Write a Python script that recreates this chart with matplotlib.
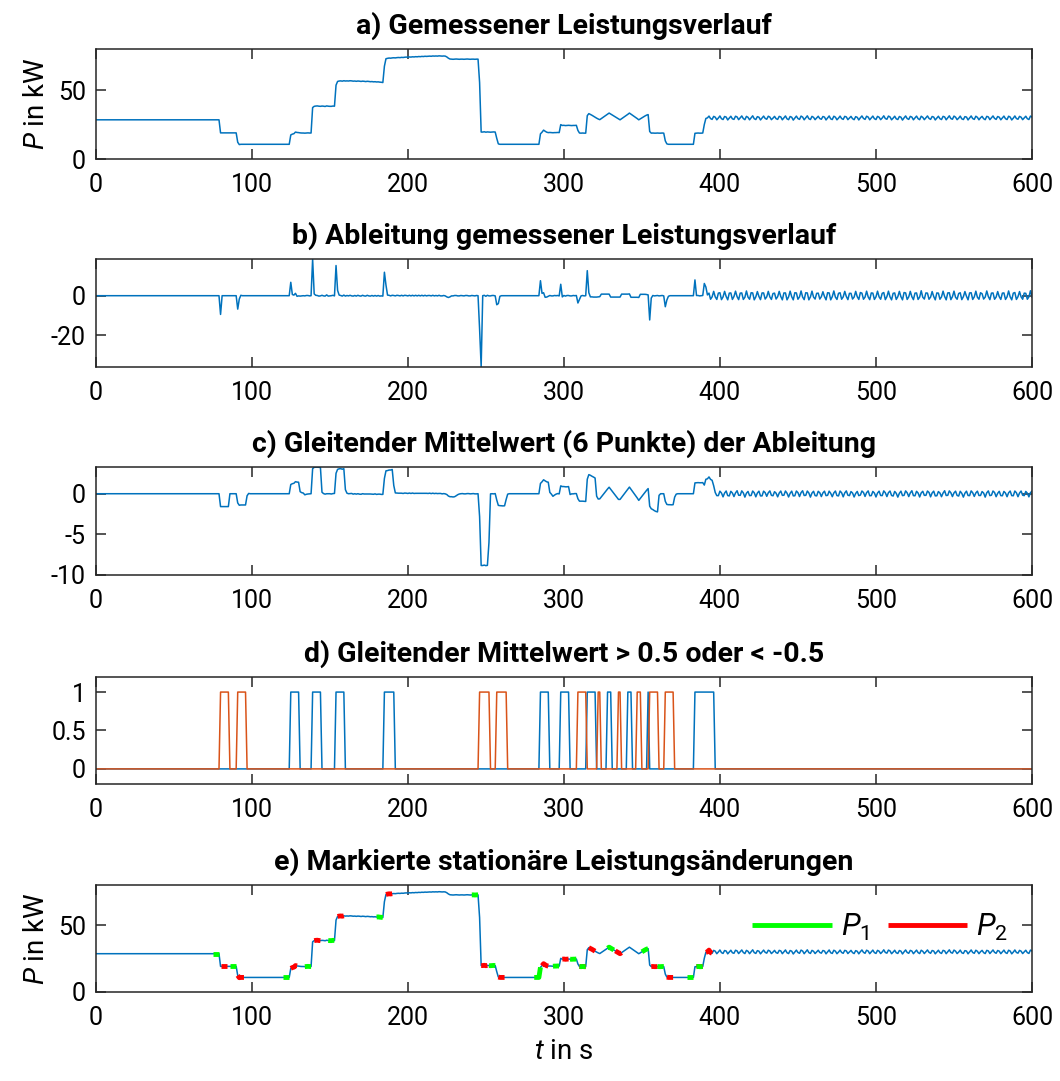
import numpy as np
import pandas as pd
import matplotlib
matplotlib.use('Agg')
import matplotlib.pyplot as plt

plt.rcParams['font.family'] = ['Roboto', 'DejaVu Sans']
plt.rcParams['mathtext.fontset'] = 'custom'
plt.rcParams['mathtext.rm'] = 'Roboto'
plt.rcParams['mathtext.it'] = 'Roboto:italic'
plt.rcParams['axes.unicode_minus'] = False

# measured power in kW, one sample per second (t = 0 ... 600 s)
p_start   = [28.5] * 80
p_drop1   = [19.0] * 11
p_drop2   = [12.2, 10.5] + [10.7] * 32
p_rise1   = [17.5, 18.1, 18.4, 19.6, 19.3, 19.2, 19.0, 18.9, 18.9, 18.8, 18.9, 19.0, 18.9, 18.9]
p_rise2   = [37.4, 38.3, 38.5, 38.6, 38.4, 38.3, 38.5, 38.4, 38.2, 38.6, 38.4, 38.3, 38.3, 38.5, 38.4]
p_rise3   = [53.7, 56.4, 56.7, 56.8, 56.6, 56.9, 56.7, 56.8, 56.7, 56.9, 56.8, 56.6, 56.7, 56.5, 56.7,
             56.6, 56.4, 56.6, 56.5, 56.3, 56.5, 56.4, 56.2, 56.3, 56.1, 56.2, 56.0, 56.1, 55.9, 55.8, 55.6]
p_rise4   = [67.5, 72.9, 73.2, 73.4, 73.3, 73.5, 73.6, 73.5, 73.7, 73.8, 73.7, 73.9, 73.8, 74.0, 74.1,
             74.0, 74.2, 74.1, 74.3, 74.2, 74.4, 74.3, 74.5, 74.4, 74.6, 74.5, 74.7, 74.6, 74.7, 74.8,
             74.7, 74.9, 74.8, 74.9, 74.8, 75.0, 74.9, 74.8, 74.9, 74.8]
p_top     = [74.2, 73.3, 72.7, 72.6, 72.5, 72.6, 72.7, 72.6, 72.5, 72.6, 72.6, 72.5, 72.6, 72.7, 72.6,
             72.5, 72.6, 72.6, 72.5, 72.6, 72.6]
p_fall1   = [55.6, 19.6, 19.6, 19.8, 19.5, 19.7, 19.6, 19.5, 19.6, 19.7, 19.6]
p_fall2   = [15.0, 11.0] + [10.7] * 26
p_rise5   = [18.3, 19.5, 21.0, 20.2, 19.5, 19.2, 19.3, 19.2, 19.1, 19.2, 19.2, 19.3, 19.2]
p_rise6   = [25.0, 24.4, 24.5, 24.3, 24.4, 24.5, 24.4, 24.3, 24.4, 24.4, 24.5]
p_fall3   = [20.8, 18.9, 18.8, 18.9, 18.8, 18.8]
p_wave    = [31.5, 33.0,
             32.4, 31.8, 31.1, 30.4, 29.7, 29.1, 28.6,
             29.4, 30.2, 31.0, 31.8, 32.6, 33.4,
             32.7, 32.0, 31.3, 30.6, 29.9, 29.2, 28.5,
             29.3, 30.1, 30.9, 31.7, 32.5, 33.4,
             32.6, 31.8, 31.0, 30.2, 29.4, 28.5,
             29.2, 29.9, 30.6, 31.3, 31.9, 32.3]
p_fall4   = [20.0, 18.8, 18.9, 18.8, 18.8, 18.9, 18.8, 18.8, 18.9, 18.8]
p_fall5   = [13.2, 11.0, 10.7] + [10.7] * 16
p_rise7   = [18.7, 18.8, 18.9, 18.8, 18.8, 18.9, 25.1, 29.5]
p_tail    = [29.9, 31.2, 29.4, 28.8, 31.0, 30.4, 28.5,
             29.8, 31.3, 29.3, 28.7, 30.9, 30.5, 28.4,
             29.7, 31.1, 29.2, 28.8, 31.1, 30.6, 28.6,
             29.9, 31.3, 29.4, 28.6, 31.0, 30.3, 28.5,
             30.0, 31.4, 29.3, 28.7, 30.8, 30.4, 28.4,
             29.8, 31.2, 29.5, 28.9, 31.1, 30.5, 28.6,
             29.7, 31.0, 29.3, 28.8, 31.0, 30.6, 28.5,
             29.9, 31.3, 29.2, 28.6, 30.9, 30.4, 28.3,
             29.8, 31.2, 29.4, 28.8, 31.2, 30.5, 28.5,
             30.0, 31.4, 29.3, 28.7, 31.0, 30.3, 28.6,
             29.8, 31.1, 29.4, 28.9, 30.9, 30.5, 28.4,
             29.9, 31.3, 29.2, 28.7, 31.1, 30.4, 28.5,
             29.7, 31.2, 29.4, 28.8, 31.0, 30.6, 28.6,
             29.8, 31.0, 29.3, 28.6, 30.8, 30.3, 28.4,
             30.0, 31.3, 29.5, 28.8, 31.1, 30.5, 28.5,
             29.9, 31.2, 29.3, 28.7, 31.0, 30.4, 28.6,
             29.8, 31.4, 29.4, 28.9, 31.2, 30.6, 28.5,
             29.7, 31.1, 29.2, 28.7, 30.9, 30.4, 28.3,
             29.9, 31.3, 29.4, 28.8, 31.0, 30.5, 28.5,
             29.8, 31.2, 29.3, 28.6, 31.1, 30.3, 28.6,
             30.0, 31.3, 29.5, 28.8, 30.9, 30.5, 28.4,
             29.8, 31.1, 29.3, 28.7, 31.0, 30.6, 28.5,
             29.9, 31.4, 29.4, 28.9, 31.2, 30.4, 28.6,
             29.7, 31.2, 29.2, 28.7, 30.8, 30.5, 28.4,
             29.8, 31.3, 29.4, 28.8, 31.1, 30.3, 28.5,
             30.0, 31.0, 29.3, 28.6, 31.0, 30.6, 28.6,
             29.9, 31.3, 29.5, 28.8, 30.9, 30.4, 28.5,
             29.8, 31.2, 29.3, 28.7, 31.1, 30.5, 28.4,
             29.7, 31.3, 29.4, 28.9, 31.0, 30.4, 28.6,
             29.9, 31.1, 29.3, 28.7, 31.2, 30.5]

# start of the 5 s windows marked as stationary before (P1) and after (P2) a change
p1_starts = [75, 86, 120, 134, 149, 180, 241, 252, 281, 293, 304, 310, 328, 350, 360, 379, 385]
p2_starts = [80, 91, 125, 140, 155, 186, 247, 258, 286, 299, 310, 316, 333, 356, 366, 385, 391]
window = 5

power = np.array(p_start + p_drop1 + p_drop2 + p_rise1 + p_rise2 + p_rise3 + p_rise4 + p_top
                 + p_fall1 + p_fall2 + p_rise5 + p_rise6 + p_fall3 + p_wave + p_fall4 + p_fall5
                 + p_rise7 + p_tail)
t = np.arange(len(power))

deriv = np.diff(power)
t_d = t[1:]
mean6 = pd.Series(deriv).rolling(6, min_periods=1).mean().to_numpy()
above = (mean6 > 0.5).astype(float)
below = (mean6 < -0.5).astype(float)

BLUE = '#0072BD'
ORANGE = '#D95319'
AX = '#262626'

fig = plt.figure(figsize=(10.6, 10.81), dpi=100)
left, width = 0.0903, 0.8833
rects = [(0.8529, 0.1018), (0.6608, 0.0994), (0.4681, 0.1002), (0.2745, 0.0995), (0.0826, 0.0987)]
titles = ['a) Gemessener Leistungsverlauf',
          'b) Ableitung gemessener Leistungsverlauf',
          'c) Gleitender Mittelwert (6 Punkte) der Ableitung',
          'd) Gleitender Mittelwert > 0.5 oder < -0.5',
          'e) Markierte stationäre Leistungsänderungen']
axes = []
for (y0, h), title in zip(rects, titles):
    ax = fig.add_axes([left, y0, width, h])
    ax.set_title(title, fontsize=20.5, fontweight='bold', pad=11)
    ax.set_xlim(0, 600)
    ax.set_xticks(np.arange(0, 601, 100))
    ax.tick_params(direction='in', top=True, right=True, length=7, width=1.1,
                   labelsize=18, colors=AX, labelcolor='black')
    ax.tick_params(axis='x', pad=10)
    ax.tick_params(axis='y', pad=7)
    for s in ax.spines.values():
        s.set_color(AX)
        s.set_linewidth(1.1)
    axes.append(ax)

ax = axes[0]
ax.plot(t, power, color=BLUE, lw=1.1)
ax.set_ylim(0, 80)
ax.set_yticks([0, 50])
ax.set_ylabel(r'$P$ in kW', fontsize=20, labelpad=6)

ax = axes[1]
ax.plot(t_d, deriv, color=BLUE, lw=1.1)
ax.set_ylim(deriv.min(), deriv.max())
ax.set_yticks([-20, 0])

ax = axes[2]
ax.plot(t_d, mean6, color=BLUE, lw=1.1)
ax.set_ylim(-10, 3.33)
ax.set_yticks([-10, -5, 0])

ax = axes[3]
ax.plot(t_d, above, color=BLUE, lw=1.1)
ax.plot(t_d, below, color=ORANGE, lw=1.1)
ax.set_ylim(-0.2, 1.2)
ax.set_yticks([0, 0.5, 1])
ax.set_yticklabels(['0', '0.5', '1'])

ax = axes[4]
ax.plot(t, power, color=BLUE, lw=1.1)
for s in p2_starts:
    seg = slice(s, s + window)
    h2, = ax.plot(t[seg], power[seg], color='#FF0000', lw=3.5, solid_capstyle='butt')
for s in p1_starts:
    seg = slice(s, s + window)
    h1, = ax.plot(t[seg], power[seg], color='#00FF00', lw=3.5, solid_capstyle='butt')
ax.set_ylim(0, 80)
ax.set_yticks([0, 50])
ax.set_ylabel(r'$P$ in kW', fontsize=20, labelpad=6)
ax.set_xlabel(r'$t$ in s', fontsize=20, labelpad=6)
ax.legend([h1, h2], [r'$P_1$', r'$P_2$'], ncol=2, frameon=False, fontsize=22,
          loc='center', bbox_to_anchor=(0.838, 0.6), handlelength=2.6,
          columnspacing=0.6, handletextpad=0.3)

fig.savefig('out.png', dpi=100)
